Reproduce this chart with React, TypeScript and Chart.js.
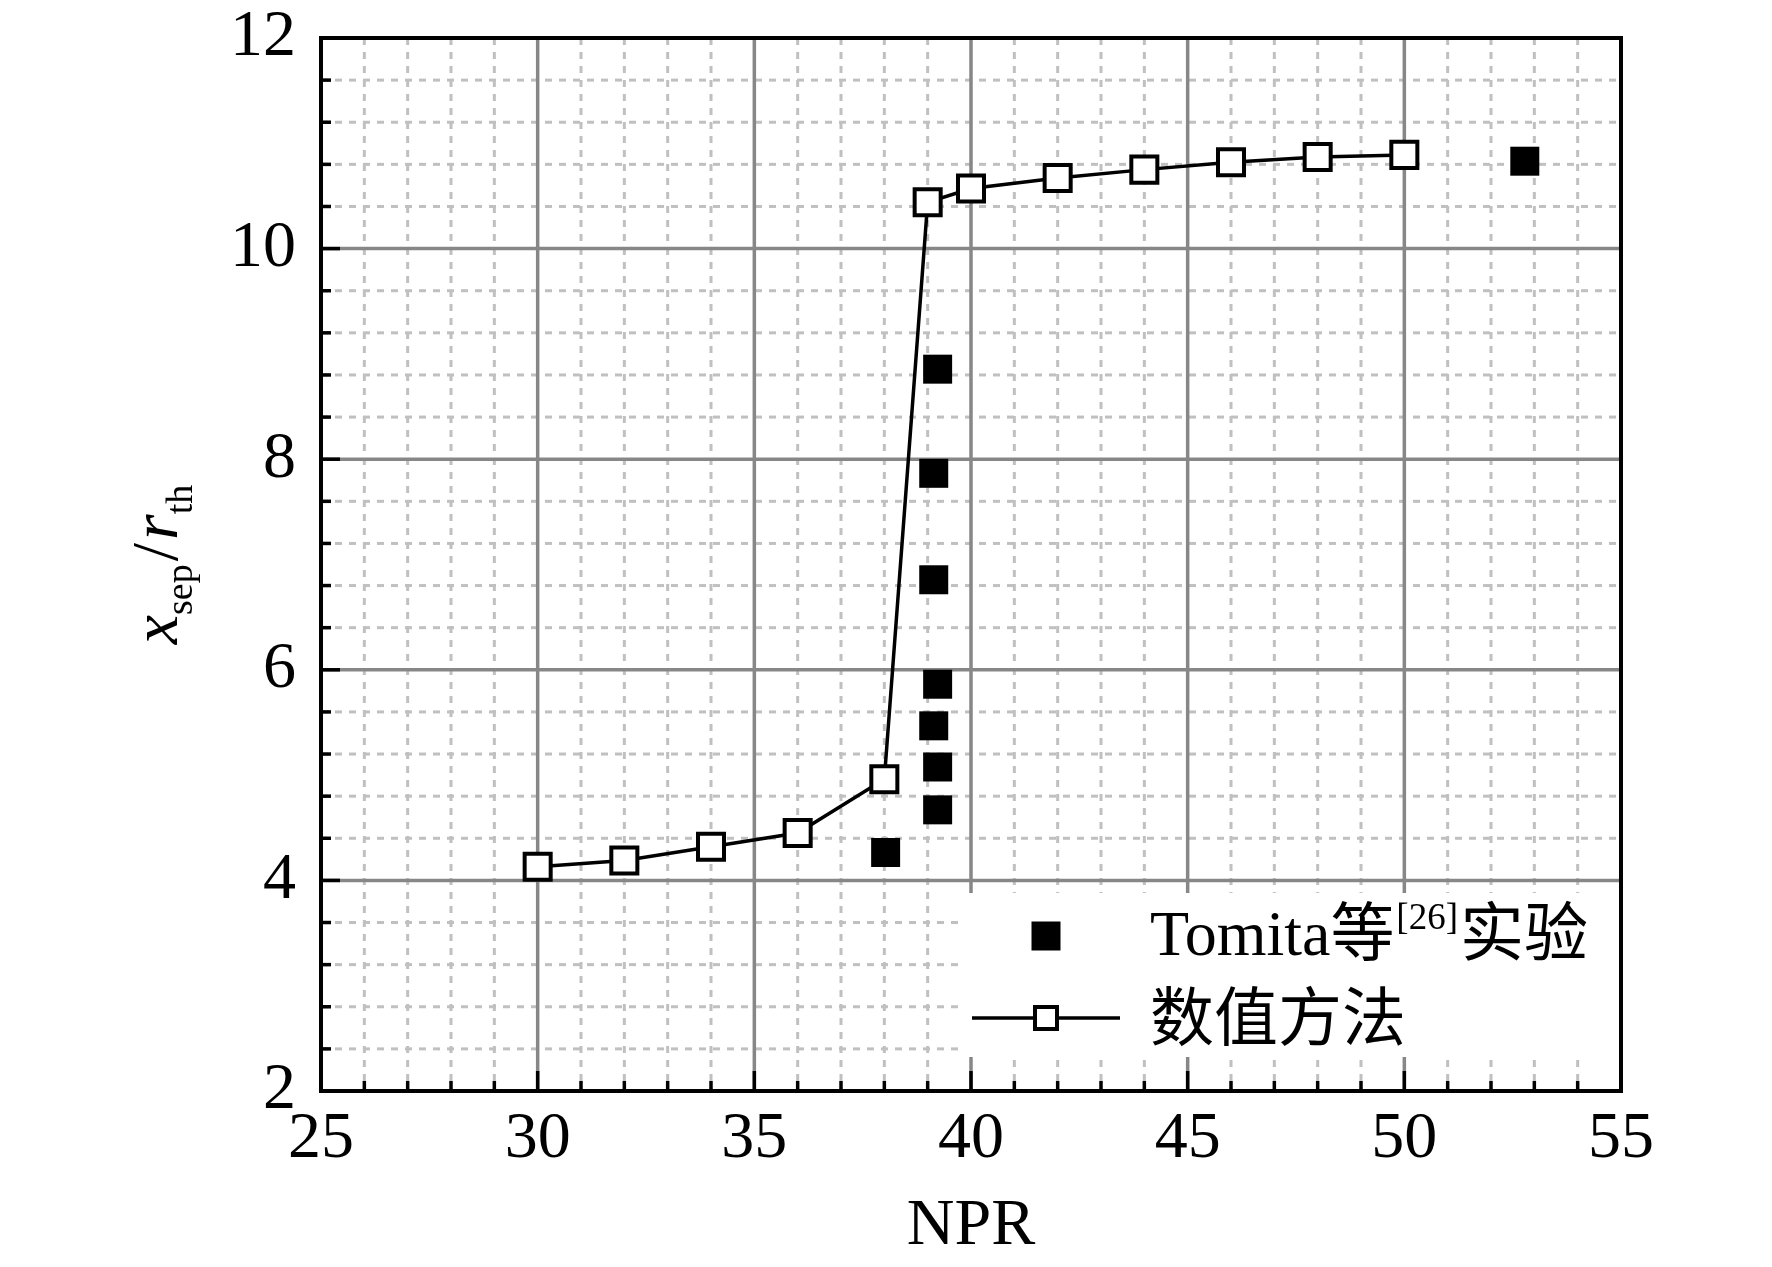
import React, { useEffect, useRef } from 'react';
import { Chart, registerables } from 'chart.js';

Chart.register(...registerables);

// 实验数据 (Tomita 等)
const expNpr = [39.23, 39.14, 39.14, 39.23, 39.14, 39.23, 39.23, 38.03, 52.78];
const expSep = [8.855, 7.866, 6.855, 5.863, 5.468, 5.077, 4.67, 4.265, 10.83];

// 数值方法
const numNpr = [30, 32, 34, 36, 38, 39, 40, 42, 44, 46, 48, 50];
const numSep = [4.13, 4.19, 4.32, 4.45, 4.96, 10.44, 10.57, 10.67, 10.75, 10.82, 10.87, 10.89];

// axes
const xTicks = [25, 30, 35, 40, 45, 50, 55];
const yTicks = [2, 4, 6, 8, 10, 12];
const xMinorStep = 1;
const yMinorStep = 0.4;

const SERIF = "'Liberation Serif', 'Times New Roman', 'Noto Sans CJK SC', serif";
const MAJOR_GRID = '#878787';
const MINOR_GRID = '#c0c0c0';

const legendLabels = { exp: ['Tomita等', '[26]', '实验'], num: '数值方法' };

function line(ctx: CanvasRenderingContext2D, x1: number, y1: number, x2: number, y2: number) {
  ctx.beginPath();
  ctx.moveTo(x1, y1);
  ctx.lineTo(x2, y2);
  ctx.stroke();
}

const paperPlugin = {
  id: 'paper',
  beforeDatasetsDraw(chart: any) {
    const { ctx, chartArea: a, scales } = chart;
    const x = scales.x;
    const y = scales.y;
    const x0 = xTicks[0], x1 = xTicks[xTicks.length - 1];
    const y0 = yTicks[0], y1 = yTicks[yTicks.length - 1];
    ctx.save();
    // minor dashed grid
    ctx.strokeStyle = MINOR_GRID;
    ctx.lineWidth = 3;
    ctx.setLineDash([7, 7]);
    const nx = Math.round((x1 - x0) / xMinorStep);
    for (let i = 1; i < nx; i++) {
      const v = x0 + i * xMinorStep;
      if (xTicks.includes(v)) continue;
      const px = x.getPixelForValue(v);
      line(ctx, px, a.top, px, a.bottom);
    }
    const ny = Math.round((y1 - y0) / yMinorStep);
    for (let i = 1; i < ny; i++) {
      if (i % 5 === 0) continue;
      const py = y.getPixelForValue(y0 + i * yMinorStep);
      line(ctx, a.left, py, a.right, py);
    }
    // major solid grid
    ctx.setLineDash([]);
    ctx.strokeStyle = MAJOR_GRID;
    ctx.lineWidth = 3.5;
    xTicks.slice(1, -1).forEach((v) => {
      const px = x.getPixelForValue(v);
      line(ctx, px, a.top, px, a.bottom);
    });
    yTicks.slice(1, -1).forEach((v) => {
      const py = y.getPixelForValue(v);
      line(ctx, a.left, py, a.right, py);
    });
    // legend backdrop
    ctx.fillStyle = '#fff';
    ctx.fillRect(a.right - 657, a.bottom - 198, 655, 164);
    ctx.restore();
  },
  afterDatasetsDraw(chart: any) {
    const { ctx, chartArea: a, scales } = chart;
    const x = scales.x;
    const y = scales.y;
    const x0 = xTicks[0], x1 = xTicks[xTicks.length - 1];
    const y0 = yTicks[0], y1 = yTicks[yTicks.length - 1];
    ctx.save();
    ctx.strokeStyle = '#000';
    ctx.lineWidth = 3.5;
    // inward ticks
    const nx = Math.round((x1 - x0) / xMinorStep);
    for (let i = 0; i <= nx; i++) {
      const v = x0 + i * xMinorStep;
      const px = x.getPixelForValue(v);
      const len = xTicks.includes(v) ? 20 : 10;
      line(ctx, px, a.bottom, px, a.bottom - len);
    }
    const ny = Math.round((y1 - y0) / yMinorStep);
    for (let i = 0; i <= ny; i++) {
      const py = y.getPixelForValue(y0 + i * yMinorStep);
      const len = i % 5 === 0 ? 19 : 10;
      line(ctx, a.left, py, a.left + len, py);
    }
    // frame
    ctx.lineWidth = 4;
    ctx.strokeRect(a.left, a.top, a.right - a.left, a.bottom - a.top);

    // legend
    const mx = a.right - 575;
    const tx = a.right - 471;
    const r1 = a.bottom - 155;
    const b1 = a.bottom - 136;
    const r2 = a.bottom - 73;
    const b2 = a.bottom - 51;
    ctx.fillStyle = '#000';
    ctx.fillRect(mx - 14.5, r1 - 14.5, 29, 29);
    ctx.textBaseline = 'alphabetic';
    ctx.textAlign = 'left';
    let cx = tx;
    ctx.font = `64px ${SERIF}`;
    ctx.fillText(legendLabels.exp[0], cx, b1);
    cx += ctx.measureText(legendLabels.exp[0]).width;
    ctx.font = `37px ${SERIF}`;
    ctx.fillText(legendLabels.exp[1], cx + 2, b1 - 26);
    cx += ctx.measureText(legendLabels.exp[1]).width + 4;
    ctx.font = `64px ${SERIF}`;
    ctx.fillText(legendLabels.exp[2], cx, b1);

    ctx.lineWidth = 3.5;
    line(ctx, mx - 74, r2, mx + 74, r2);
    ctx.fillStyle = '#fff';
    ctx.lineWidth = 4;
    ctx.fillRect(mx - 11, r2 - 11, 22, 22);
    ctx.strokeRect(mx - 11, r2 - 11, 22, 22);
    ctx.fillStyle = '#000';
    ctx.font = `64px ${SERIF}`;
    ctx.fillText(legendLabels.num, tx, b2);

    // y axis title: x_sep / r_th
    const parts = [
      { t: 'x', f: `italic 66px ${SERIF}`, dy: 0 },
      { t: 'sep', f: `38px ${SERIF}`, dy: 15 },
      { t: '/', f: `66px ${SERIF}`, dy: 0 },
      { t: 'r', f: `italic 66px ${SERIF}`, dy: 0 },
      { t: 'th', f: `38px ${SERIF}`, dy: 15 },
    ];
    let total = 0;
    const widths = parts.map((p) => {
      ctx.font = p.f;
      const w = ctx.measureText(p.t).width + (p.t === '/' ? 6 : 0);
      total += w;
      return w;
    });
    ctx.translate(a.left - 144, (a.top + a.bottom) / 2);
    ctx.rotate(-Math.PI / 2);
    let px = -total / 2;
    parts.forEach((p, i) => {
      ctx.font = p.f;
      ctx.fillText(p.t, px + (p.t === '/' ? 3 : 0), p.dy);
      px += widths[i];
    });
    ctx.restore();
  },
};

const App = () => {
  const canvasRef = useRef<HTMLCanvasElement | null>(null);
  const chartRef = useRef<Chart | null>(null);

  useEffect(() => {
    document.body.style.margin = '0';
    if (!canvasRef.current) return;
    const tickFont = { family: SERIF, size: 66, lineHeight: 1 };
    chartRef.current = new Chart(canvasRef.current, {
      type: 'scatter',
      data: {
        datasets: [
          {
            label: 'Tomita等[26]实验',
            data: expNpr.map((v, i) => ({ x: v, y: expSep[i] })),
            pointStyle: 'rect',
            pointRadius: 20.5,
            backgroundColor: '#000',
            borderWidth: 0,
            showLine: false,
          },
          {
            label: '数值方法',
            data: numNpr.map((v, i) => ({ x: v, y: numSep[i] })),
            showLine: true,
            borderColor: '#000',
            borderWidth: 3.5,
            tension: 0,
            pointStyle: 'rect',
            pointRadius: 18.4,
            pointBorderWidth: 4,
            pointBackgroundColor: '#fff',
            pointBorderColor: '#000',
          },
        ],
      },
      options: {
        animation: false,
        responsive: false,
        devicePixelRatio: 1,
        layout: { padding: { left: 0, top: 38, right: 151, bottom: 0 } },
        plugins: { legend: { display: false }, tooltip: { enabled: false } },
        scales: {
          x: {
            type: 'linear',
            min: xTicks[0],
            max: xTicks[xTicks.length - 1],
            afterFit: (s: any) => {
              s.height = 176;
              s.paddingLeft = 0;
              s.paddingRight = 0;
            },
            grid: { display: false, drawTicks: false },
            border: { display: false },
            ticks: { stepSize: 5, color: '#000', font: tickFont, padding: 16, maxRotation: 0, autoSkip: false },
            title: {
              display: true,
              text: 'NPR',
              color: '#000',
              font: { family: SERIF, size: 66, lineHeight: 1.2 },
              padding: { top: 0, bottom: 1 },
            },
          },
          y: {
            type: 'linear',
            min: yTicks[0],
            max: yTicks[yTicks.length - 1],
            afterFit: (s: any) => {
              s.width = 321;
              s.paddingTop = 0;
              s.paddingBottom = 0;
            },
            grid: { display: false, drawTicks: false },
            border: { display: false },
            ticks: { stepSize: 2, color: '#000', font: tickFont, padding: 25 },
          },
        },
      },
      plugins: [paperPlugin],
    });
    return () => {
      if (chartRef.current) {
        chartRef.current.destroy();
      }
    };
  }, []);

  return <canvas ref={canvasRef} width={1772} height={1267} style={{ display: 'block', width: 1772, height: 1267 }} />;
};

export default App;
